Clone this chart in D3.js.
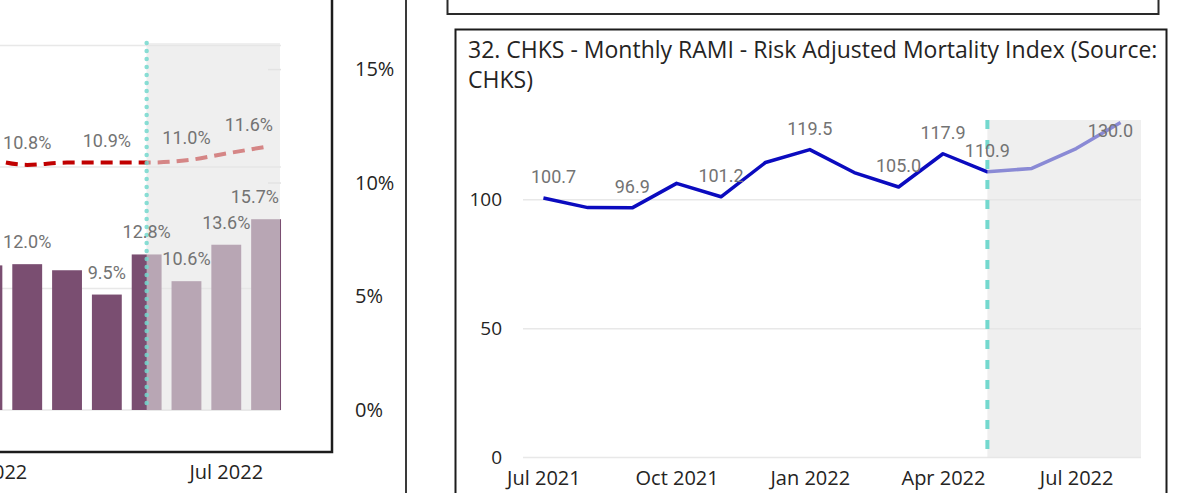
<!DOCTYPE html>
<html>
<head>
<meta charset="utf-8">
<script src="https://cdn.jsdelivr.net/npm/d3@7"></script>
<style>
  body { margin: 0; background: #fff; }
  svg { display: block; }
  .axis text { font-family: "Open Sans", sans-serif; fill: #252423; }
  .lbl { font-family: Roboto, sans-serif; font-size: 18px; fill: #737373; }
  .title { font-family: "Open Sans", sans-serif; font-size: 23px; fill: #252423; }
</style>
</head>
<body>
<svg width="1193" height="493"></svg>
<script>
// ---- data ----
// right panel: monthly RAMI
const months = ["Jul 2021", "Aug 2021", "Sep 2021", "Oct 2021", "Nov 2021", "Dec 2021",
                "Jan 2022", "Feb 2022", "Mar 2022", "Apr 2022", "May 2022", "Jun 2022",
                "Jul 2022", "Aug 2022"];
const rami = [100.7, 97.0, 96.9, 106.4, 101.2, 114.5, 119.5, 110.6, 105.0, 117.9, 110.9, 112.2, 119.9, 130.0];
const ramiLabelled = ["Jul 2021", "Sep 2021", "Nov 2021", "Jan 2022", "Mar 2022", "Apr 2022", "May 2022", "Aug 2022"];
const ramiTicks = [0, 50, 100];
const ramiMonthTicks = ["Jul 2021", "Oct 2021", "Jan 2022", "Apr 2022", "Jul 2022"];

// left panel (only the visible part of it): bars + rate line
const leftMonths = ["Jan 2022", "Feb 2022", "Mar 2022", "Apr 2022", "May 2022", "Jun 2022", "Jul 2022", "Aug 2022"];
const barRate = [11.9, 12.0, 11.5, 9.5, 12.8, 10.6, 13.6, 15.7];
const lineRate = [11.1, 10.8, 10.9, 10.9, 10.9, 11.0, 11.3, 11.6];
const barLabelled = ["Feb 2022", "Apr 2022", "May 2022", "Jun 2022", "Jul 2022", "Aug 2022"];
const lineLabelled = ["Feb 2022", "Apr 2022", "Jun 2022", "Aug 2022"];
const barTicks = [0, 10, 20, 30];
const rateTicks = [0, 5, 10, 15];
const leftMonthTicks = ["Jan 2022", "Jul 2022"];

const forecastStart = "May 2022";
const ramiTitle = ["32. CHKS - Monthly RAMI - Risk Adjusted Mortality Index (Source:", "CHKS)"];

const svg = d3.select("svg");

// ---- frames of the dashboard ----
svg.append("rect").attr("x", -10).attr("y", -10).attr("width", 342).attr("height", 462)
   .attr("fill", "none").attr("stroke", "#1c1c1c").attr("stroke-width", 2.5);
svg.append("line").attr("x1", 406).attr("x2", 406).attr("y1", 0).attr("y2", 493)
   .attr("stroke", "#3a3a3a").attr("stroke-width", 2);
svg.append("rect").attr("x", 447.5).attr("y", -10).attr("width", 711).attr("height", 24)
   .attr("fill", "none").attr("stroke", "#2a2a2a").attr("stroke-width", 2);
svg.append("rect").attr("x", 455.5).attr("y", 29.5).attr("width", 711).attr("height", 480)
   .attr("fill", "none").attr("stroke", "#1c1c1c").attr("stroke-width", 2);

// overlay colour that fades the forecast part
const shade = "#e4e4e4", shadeOpacity = 0.59;
const teal = "#74d8ce";

// keep a label inside the plot
function fitX(x, w, left, right, margin) {
  return Math.max(left + margin + w / 2, Math.min(x, right - margin - w / 2));
}

// =============== left panel ===============
const L = { top: 43, bottom: 410, right: 281 };
const xL = d3.scaleBand().domain(leftMonths).range([-32.5, 286])
             .paddingInner(0.25).paddingOuter(0.125);
const yBar = d3.scaleLinear().domain([0, 30.2]).range([L.bottom, L.top]);
const yRate = d3.scaleLinear().domain([0, 16.17]).range([L.bottom, L.top]);

const gL = svg.append("g");

gL.selectAll(".grid").data(barTicks).enter().append("line")
  .attr("x1", -40).attr("x2", L.right)
  .attr("y1", d => yBar(d)).attr("y2", d => yBar(d))
  .attr("stroke", "#e8e8e8").attr("stroke-width", 1.5);

// faint secondary grid stubs at the right end
gL.selectAll(".grid2").data(rateTicks.filter(d => d >= 10)).enter().append("line")
  .attr("x1", L.right - 13).attr("x2", L.right)
  .attr("y1", d => yRate(d)).attr("y2", d => yRate(d))
  .attr("stroke", "#e2e2e2").attr("stroke-width", 1.5);

const barData = leftMonths.map((m, i) => ({ m: m, v: barRate[i], r: lineRate[i] }));

gL.selectAll(".bar").data(barData).enter().append("rect")
  .attr("x", d => xL(d.m))
  .attr("y", d => yBar(d.v))
  .attr("width", xL.bandwidth())
  .attr("height", d => L.bottom - yBar(d.v))
  .attr("fill", "#7a4e71");

const rateLine = d3.line()
  .x(d => xL(d.m) + xL.bandwidth() / 2)
  .y(d => yRate(d.r))
  .curve(d3.curveMonotoneX);

gL.append("path").datum(barData)
  .attr("d", rateLine)
  .attr("fill", "none").attr("stroke", "#c00000")
  .attr("stroke-width", 4).attr("stroke-dasharray", "12,7");

const xFL = xL(forecastStart) + xL.bandwidth() / 2;
gL.append("rect")
  .attr("x", xFL).attr("y", L.top)
  .attr("width", L.right - 1 - xFL).attr("height", L.bottom - L.top + 1)
  .attr("fill", shade).attr("fill-opacity", shadeOpacity);

gL.append("line")
  .attr("x1", xFL).attr("x2", xFL).attr("y1", L.top).attr("y2", L.bottom)
  .attr("stroke", teal).attr("stroke-opacity", 0.85)
  .attr("stroke-width", 4.5).attr("stroke-linecap", "round")
  .attr("stroke-dasharray", "0.1,7.9");

// bar labels
gL.selectAll(".blbl").data(barData.filter(d => barLabelled.includes(d.m))).enter().append("text")
  .attr("class", "lbl").attr("text-anchor", "middle")
  .text(d => d.v.toFixed(1) + "%")
  .attr("x", function (d) {
    const w = this.getComputedTextLength();
    return fitX(xL(d.m) + xL.bandwidth() / 2, w, -100, L.right, 2);
  })
  .attr("y", d => yBar(d.v) - 16);

// line labels
gL.selectAll(".llbl").data(barData.filter(d => lineLabelled.includes(d.m))).enter().append("text")
  .attr("class", "lbl").attr("text-anchor", "middle")
  .text(d => d.r.toFixed(1) + "%")
  .attr("x", function (d) {
    const w = this.getComputedTextLength();
    return fitX(xL(d.m) + xL.bandwidth() / 2, w, -100, L.right, 8);
  })
  .attr("y", d => yRate(d.r) - 16);

// month axis of the left panel
const axL = gL.append("g").attr("class", "axis")
  .attr("transform", "translate(0," + 460 + ")")
  .call(d3.axisBottom(xL).tickValues(leftMonthTicks).tickSize(0).tickPadding(5));
axL.select(".domain").remove();
axL.selectAll("text").style("font-size", "20px");

// secondary % axis (sits outside the left frame)
const axR = svg.append("g").attr("class", "axis")
  .attr("transform", "translate(352,0)")
  .call(d3.axisRight(yRate).tickValues(rateTicks).tickFormat(d => d + "%").tickSize(0).tickPadding(3));
axR.select(".domain").remove();
axR.selectAll("text").style("font-size", "20px");

// =============== right panel: RAMI ===============
const R = { left: 523, right: 1141, top: 120, bottom: 457.5 };
const xR = d3.scalePoint().domain(months).range([R.left, R.right]).padding(0.46);
const yR = d3.scaleLinear().domain([0, 131]).range([R.bottom, R.top]);

const gR = svg.append("g");

gR.selectAll("text.title").data(ramiTitle).enter().append("text")
  .attr("class", "title")
  .attr("x", 468)
  .attr("y", (d, i) => 58 + i * 30)
  .text(d => d);

gR.selectAll(".grid").data(ramiTicks).enter().append("line")
  .attr("x1", R.left).attr("x2", R.right)
  .attr("y1", d => yR(d)).attr("y2", d => yR(d))
  .attr("stroke", "#e8e8e8").attr("stroke-width", 1.5);

const ramiData = months.map((m, i) => ({ m: m, v: rami[i] }));

gR.append("path").datum(ramiData)
  .attr("d", d3.line().x(d => xR(d.m)).y(d => yR(d.v)))
  .attr("fill", "none").attr("stroke", "#0b0bbf")
  .attr("stroke-width", 3.5).attr("stroke-linejoin", "round");

const xFR = xR(forecastStart);
gR.append("rect")
  .attr("x", xFR).attr("y", R.top)
  .attr("width", R.right - xFR).attr("height", R.bottom - R.top)
  .attr("fill", shade).attr("fill-opacity", shadeOpacity);

gR.append("line")
  .attr("x1", xFR).attr("x2", xFR).attr("y1", R.top).attr("y2", R.bottom)
  .attr("stroke", teal).attr("stroke-width", 4)
  .attr("stroke-dasharray", "9,11");

gR.selectAll(".rlbl").data(ramiData.filter(d => ramiLabelled.includes(d.m))).enter().append("text")
  .attr("class", "lbl").attr("text-anchor", "middle")
  .text(d => d.v.toFixed(1))
  .attr("x", function (d) {
    const w = this.getComputedTextLength();
    return fitX(xR(d.m), w, R.left, R.right, 8);
  })
  // no room above the top point -> put it below
  .attr("y", d => (yR(d.v) - 28 < R.top) ? yR(d.v) + 14 : yR(d.v) - 15);

const axY = gR.append("g").attr("class", "axis")
  .attr("transform", "translate(" + R.left + ",0)")
  .call(d3.axisLeft(yR).tickValues(ramiTicks).tickSize(0).tickPadding(21));
axY.select(".domain").remove();
axY.selectAll("text").style("font-size", "19px");

const axX = gR.append("g").attr("class", "axis")
  .attr("transform", "translate(0," + R.bottom + ")")
  .call(d3.axisBottom(xR).tickValues(ramiMonthTicks).tickSize(0).tickPadding(13));
axX.select(".domain").remove();
axX.selectAll("text").style("font-size", "20px");
</script>
</body>
</html>
